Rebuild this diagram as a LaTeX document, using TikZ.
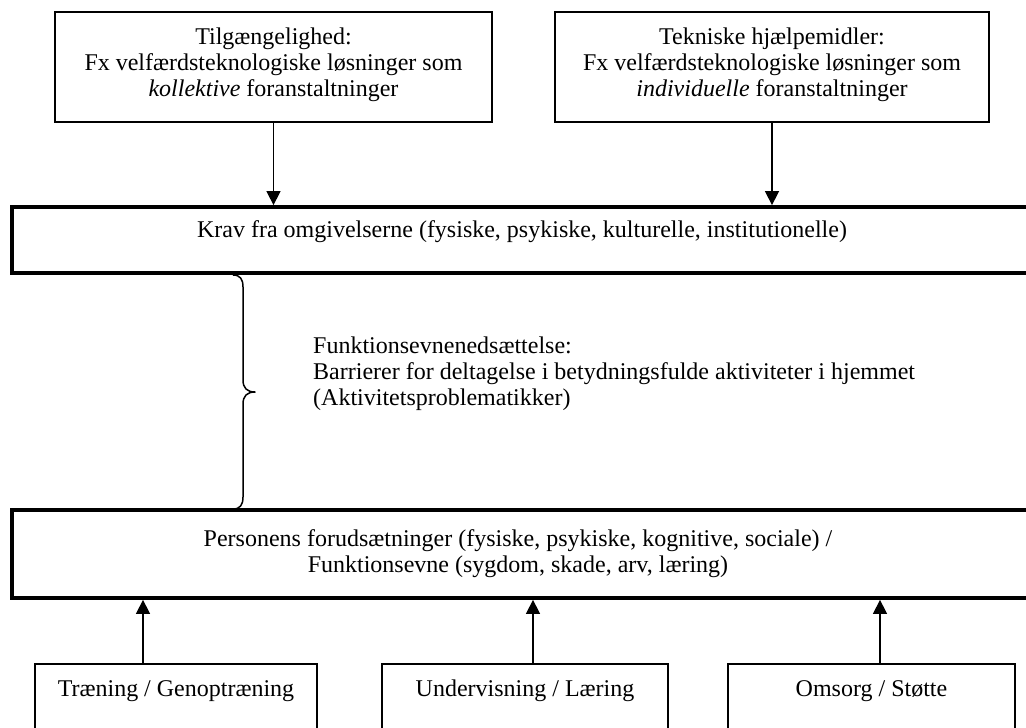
\documentclass[tikz,border=0pt]{standalone}
\usepackage{fontspec}
\setmainfont{Liberation Serif}
\usetikzlibrary{arrows.meta}
\begin{document}
\begin{tikzpicture}[x=1pt,y=-1pt,
  every node/.style={font=\fontsize{24}{25.8}\selectfont, inner sep=0pt},
  thinbox/.style={draw, rectangle, line width=1.6pt},
  thickbox/.style={draw, rectangle, line width=3.8pt},
  arr/.style={line width=1.5pt, -{Triangle[width=14pt,length=14pt]}},
  bracepath/.style={line width=1.5pt, line join=round}]
\path[fill=white, use as bounding box] (0,0) rectangle (1026,728);

% measures that act on the surroundings
\node[thinbox, minimum width=437pt, minimum height=110pt] (tl) at (273.5,67) {};
\node[align=center] (tltext) at (273.5,65)
  {Tilgængelighed:\\Fx velfærdsteknologiske løsninger som\\\textit{kollektive} foranstaltninger};
\node[thinbox, minimum width=434pt, minimum height=110pt] (tr) at (772,67) {};
\node[align=center] (trtext) at (772,65)
  {Tekniske hjælpemidler:\\Fx velfærdsteknologiske løsninger som\\\textit{individuelle} foranstaltninger};

% demands from the surroundings
\node[thickbox, minimum width=1028pt, minimum height=66pt] (krav) at (526,240) {};
\node[anchor=base] (kravtext) at (522,237)
  {Krav fra omgivelserne (fysiske, psykiske, kulturelle, institutionelle)};

% the person's capabilities
\node[thickbox, minimum width=1028pt, minimum height=88pt] (pers) at (526,554) {};
\node[align=center] (perstext) at (518,554)
  {Personens forudsætninger (fysiske, psykiske, kognitive, sociale) /\\Funktionsevne (sygdom, skade, arv, læring)};

% the gap between the two
\draw[bracepath] (233,275) .. controls (240,275) and (243,279) .. (243,287)
  -- (243,380) .. controls (243,388) and (247,392) .. (255,392)
  .. controls (247,392) and (243,396) .. (243,404)
  -- (243,497) .. controls (243,505) and (240,509) .. (233,509);
\node[anchor=west, align=left] (gap) at (313,374)
  {Funktionsevnenedsættelse:\\Barrierer for deltagelse i betydningsfulde aktiviteter i hjemmet\\(Aktivitetsproblematikker)};

% measures that act on the person
\node[thinbox, minimum width=282pt, minimum height=96pt] (b1) at (176,712) {};
\node[thinbox, minimum width=286pt, minimum height=96pt] (b2) at (525,712) {};
\node[thinbox, minimum width=287pt, minimum height=96pt] (b3) at (871.5,712) {};
\node (b1text) at (176,691) {Træning / Genoptræning};
\node (b2text) at (525,691) {Undervisning / Læring};
\node (b3text) at (871.5,691) {Omsorg / Støtte};

% connectors
\draw[arr] (tl.south) -- (tl.south |- krav.north);
\draw[arr] (tr.south) -- (tr.south |- krav.north);
\draw[arr] (143,0 |- b1.north) -- (143,0 |- pers.south);
\draw[arr] (533,0 |- b2.north) -- (533,0 |- pers.south);
\draw[arr] (880,0 |- b3.north) -- (880,0 |- pers.south);
\end{tikzpicture}
\end{document}
